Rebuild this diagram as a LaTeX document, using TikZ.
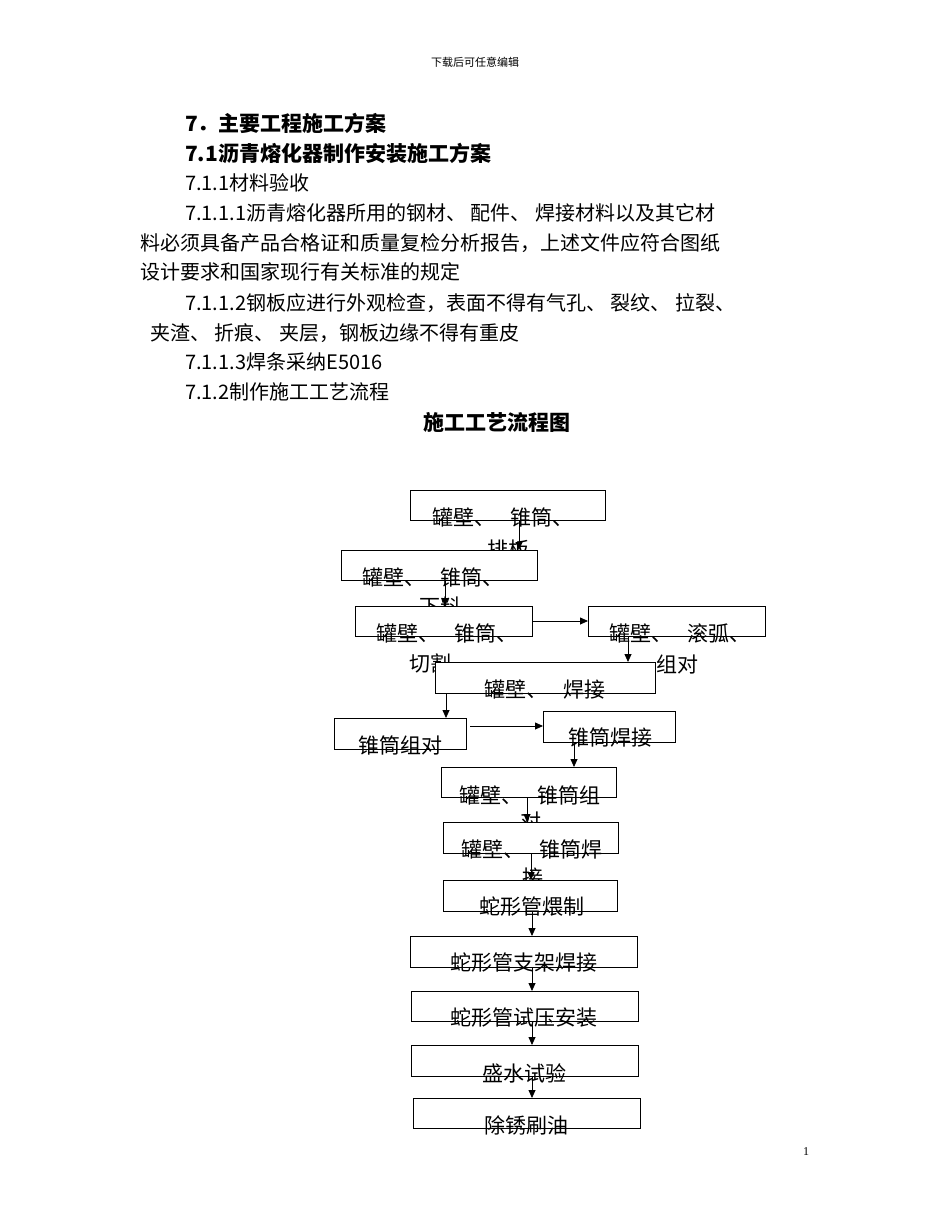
\documentclass[tikz,border=0pt]{standalone}
\usepackage{fontspec}
\setmainfont{Liberation Serif}
\newfontfamily\cjk{Noto Sans CJK SC}
\usetikzlibrary{arrows.meta}
\begin{document}
\begin{tikzpicture}[x=1pt,y=-1pt,
  bx/.style={draw=black,fill=white,line width=0.8pt},
  tx/.style={inner sep=0pt,font=\cjk\fontsize{21}{21}\selectfont},
  body/.style={inner sep=0pt,anchor=west,font=\cjk\fontsize{20}{20}\selectfont},
  hd/.style={inner sep=0pt,anchor=west,font=\cjk\bfseries\fontsize{21}{21}\selectfont},
  ar/.style={-{Triangle[length=8pt,width=7pt]},line width=0.8pt}]
\useasboundingbox (0,0) rectangle (950,1230);
\node[inner sep=0pt,font=\cjk\fontsize{11}{11}\selectfont] (hdr) at (475,62) {下载后可任意编辑};
\node[hd] (h1) at (185,123) {7．主要工程施工方案};
\node[hd] (h2) at (185,153) {7.1沥青熔化器制作安装施工方案};
\node[body] (l1) at (185,183) {7.1.1材料验收};
\node[body] (l2) at (185,213) {7.1.1.1沥青熔化器所用的钢材、\ 配件、\ 焊接材料以及其它材};
\node[body] (l3) at (140,243) {料必须具备产品合格证和质量复检分析报告，上述文件应符合图纸};
\node[body] (l4) at (140,272) {设计要求和国家现行有关标准的规定};
\node[body] (l5) at (185,303) {7.1.1.2钢板应进行外观检查，表面不得有气孔、\ 裂纹、\ 拉裂、};
\node[body] (l6) at (150,333) {夹渣、\ 折痕、\ 夹层，钢板边缘不得有重皮};
\node[body] (l7) at (185,362) {7.1.1.3焊条采纳E5016};
\node[body] (l8) at (185,392) {7.1.2制作施工工艺流程};
\node[inner sep=0pt,font=\cjk\bfseries\fontsize{21}{21}\selectfont] (title) at (497,422) {施工工艺流程图};
\node[inner sep=0pt,font=\fontsize{12}{12}\selectfont] (pg) at (806,1152) {1};
% boxes
\draw[bx] (410,490) rectangle (605,520) coordinate (b1);
\node[tx] (t1) at (503,517) {罐壁、\hspace{16pt}锥筒、};
\node[tx] (t1b) at (508,550) {排板};
\draw[bx] (341,550) rectangle (537,580);
\node[tx] (t2) at (433,577) {罐壁、\hspace{16pt}锥筒、};
\node[tx] (t2b) at (440,607) {下料};
\draw[bx] (355,606) rectangle (532,636);
\node[tx] (t3) at (447,633) {罐壁、\hspace{16pt}锥筒、};
\node[tx] (t3b) at (430,663) {切割};
\draw[bx] (588,606) rectangle (765,636);
\node[tx] (t4) at (680,633) {罐壁、\hspace{16pt}滚弧、};
\node[tx] (t4b) at (677,665) {组对};
\draw[bx] (435,662) rectangle (655,693);
\node[tx] (t5) at (545,690) {罐壁、\hspace{16pt}焊接};
\draw[bx] (334,718) rectangle (466,749);
\node[tx] (t6) at (400,745) {锥筒组对};
\draw[bx] (543,711) rectangle (675,742);
\node[tx] (t7) at (610,738) {锥筒焊接};
\draw[bx] (441,767) rectangle (616,797);
\node[tx] (t8b) at (531,822) {对};
\draw[bx] (443,822) rectangle (618,853);
\node[tx] (t8) at (530,795) {罐壁、\hspace{16pt}锥筒组};
\node[tx] (t9) at (532,850) {罐壁、\hspace{16pt}锥筒焊};
\node[tx] (t9b) at (533,878) {接};
\draw[bx] (443,880) rectangle (617,911);
\node[tx] (t10) at (532,907) {蛇形管煨制};
\draw[bx] (410,936) rectangle (637,967);
\node[tx] (t11) at (524,963) {蛇形管支架焊接};
\draw[bx] (411,991) rectangle (638,1021);
\node[tx] (t12) at (524,1018) {蛇形管试压安装};
\draw[bx] (411,1045) rectangle (638,1076);
\node[tx] (t13) at (524,1073) {盛水试验};
\draw[bx] (413,1098) rectangle (640,1128);
\node[tx] (t14) at (526,1125) {除锈刷油};
% arrows
\coordinate (a1) at (519,520); \coordinate (a1e) at (519,550);
\coordinate (a2) at (445,580); \coordinate (a2e) at (445,606);
\coordinate (a3) at (532,621); \coordinate (a3e) at (588,621);
\coordinate (a4) at (628,636); \coordinate (a4e) at (628,662);
\coordinate (a5) at (446,693); \coordinate (a5e) at (446,718);
\coordinate (a6) at (470,726); \coordinate (a6e) at (543,726);
\coordinate (a7) at (574,742); \coordinate (a7e) at (574,767);
\coordinate (a8) at (527,797); \coordinate (a8e) at (527,822);
\coordinate (a9) at (531,853); \coordinate (a9e) at (531,880);
\coordinate (a10) at (532,911); \coordinate (a10e) at (532,936);
\coordinate (a11) at (532,967); \coordinate (a11e) at (532,991);
\coordinate (a12) at (532,1021); \coordinate (a12e) at (532,1045);
\coordinate (a13) at (532,1076); \coordinate (a13e) at (532,1098);
\foreach \i in {1,...,13} {\draw[ar] (a\i) -- (a\i e);}
\end{tikzpicture}
\end{document}
